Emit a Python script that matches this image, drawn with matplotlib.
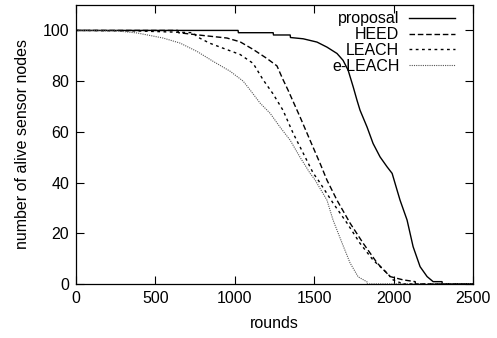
import matplotlib
matplotlib.use("Agg")
import matplotlib.pyplot as plt

plt.rcParams['font.family'] = ['Liberation Sans', 'DejaVu Sans']
plt.rcParams['font.size'] = 11.5

# rounds vs alive nodes
prop_x = [0, 1020, 1022, 1241, 1243, 1348, 1350, 1430, 1517, 1580, 1643, 1681, 1713, 1745, 1769, 1788, 1832, 1870, 1914, 1958, 1990, 2021, 2040, 2084, 2122, 2166, 2210, 2248, 2304, 2306, 2500]
prop_y = [100, 100, 99.1, 99.1, 98.2, 98.2, 97.2, 96.7, 95.4, 93.4, 90.9, 88.2, 84.3, 77.7, 72.4, 68.5, 61.9, 55.4, 50.1, 46.2, 43.6, 37, 33, 25.2, 14.7, 6.8, 2.9, 0.9, 0.9, 0, 0]

heed_x = [0, 640, 645, 800, 950, 1033, 1115, 1200, 1265, 1300, 1335, 1410, 1473, 1536, 1580, 1643, 1725, 1807, 1895, 1977, 2059, 2135, 2137, 2500]
heed_y = [100, 100, 99.1, 98, 97, 95.5, 92.5, 89, 86, 81, 76.4, 65.9, 56.7, 47.6, 40.9, 33, 24, 16.1, 8.3, 2.9, 1.6, 0.9, 0, 0]

leach_x = [0, 380, 737, 762, 840, 925, 1033, 1115, 1178, 1240, 1303, 1367, 1430, 1493, 1524, 1618, 1706, 1788, 1870, 1958, 1996, 2040, 2042, 2500]
leach_y = [100, 99.8, 99.1, 97.5, 95, 93, 90.5, 87, 80.5, 75, 68.5, 59.4, 51.6, 43.7, 41, 31.9, 24, 16, 9.4, 4.3, 1.6, 0.5, 0, 0]

eleach_x = [0, 258, 384, 466, 548, 655, 762, 863, 970, 1052, 1096, 1159, 1222, 1285, 1348, 1410, 1473, 1505, 1580, 1618, 1675, 1725, 1776, 1832, 1834, 2500]
eleach_y = [100, 99.8, 99, 98, 97, 95, 91.7, 87.8, 83.9, 80, 76.5, 71.3, 67.3, 61.8, 56.7, 50, 43.7, 41, 33, 25.2, 16.1, 8.3, 2.8, 0.8, 0, 0]

fig = plt.figure(figsize=(4.97, 3.38), dpi=100)
ax = fig.add_axes([0.153, 0.160, 0.799, 0.825])

ax.plot(prop_x, prop_y, color='black', lw=1.0, ls='-', label='proposal')
ax.plot(heed_x, heed_y, color='black', lw=1.0, ls=(0, (4, 2)), label='HEED')
ax.plot(leach_x, leach_y, color='black', lw=1.0, ls=(0, (2, 2.5)), label='LEACH')
ax.plot(eleach_x, eleach_y, color='#555555', lw=0.8, ls=(0, (1, 1)), label='e-LEACH')

ax.set_xlim(0, 2500)
ax.set_ylim(0, 110)
ax.set_xticks([0, 500, 1000, 1500, 2000, 2500])
ax.set_yticks([0, 20, 40, 60, 80, 100])
ax.tick_params(direction='in', length=6, top=True, right=True, width=0.8, pad=5)
for s in ax.spines.values():
    s.set_linewidth(0.9)
ax.set_xlabel('rounds', labelpad=7)
ax.set_ylabel('number of alive sensor nodes', labelpad=9)

ax.legend(loc='upper right', bbox_to_anchor=(0.955, 0.977), frameon=False,
          markerfirst=False, handlelength=2.9, labelspacing=0.05,
          borderaxespad=0, borderpad=0, handletextpad=0.6)

fig.savefig('out.png', dpi=100)
